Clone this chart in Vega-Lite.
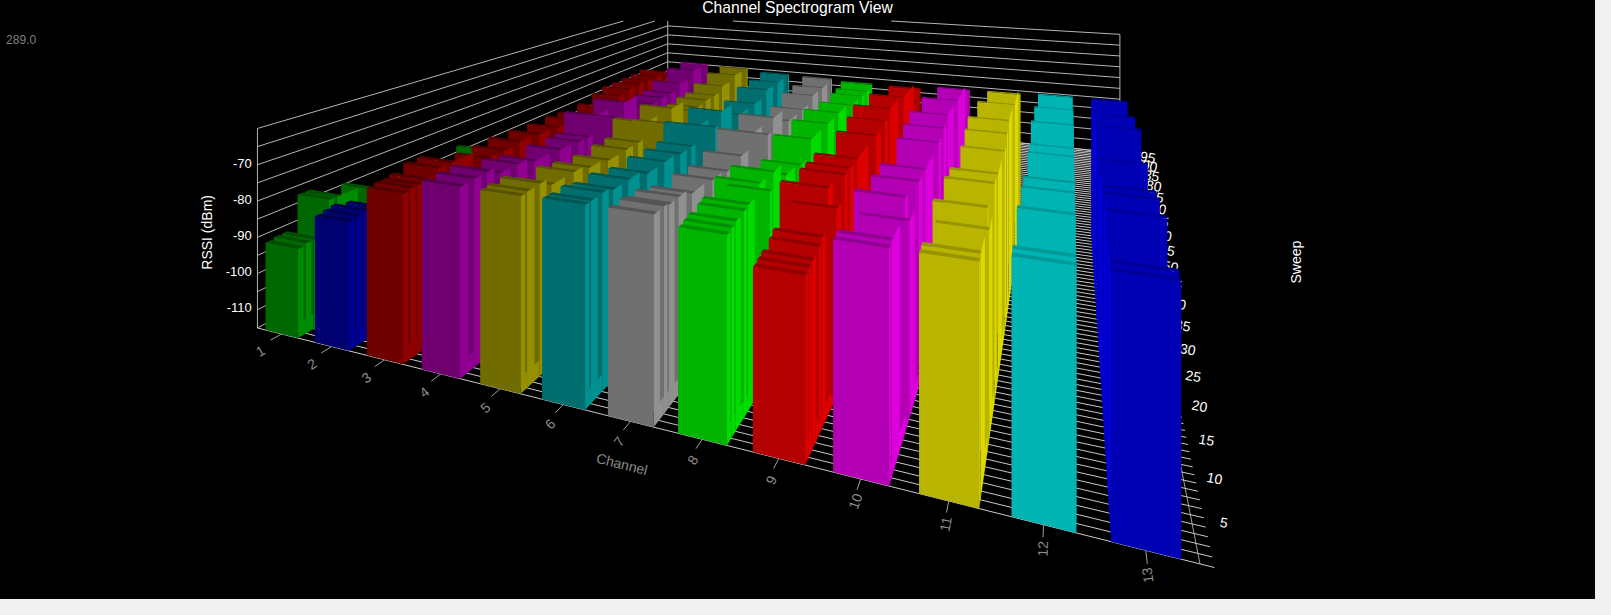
{"$schema":"https://vega.github.io/schema/vega-lite/v6.json","width":1595,"height":599,"autosize":{"type":"none"},"padding":{"left":0,"top":0,"right":16,"bottom":16},"background":"#f0f0f0","config":{"view":{"fill":"#000000","stroke":null}},"title":{"text":"Channel Spectrogram View","color":"#ffffff","font":"Liberation Sans","fontSize":15.7,"fontWeight":"normal","offset":-17},
"datasets":{
"bars":[
{"channel":1,"sweep":35,"rssi":-91.5},{"channel":1,"sweep":31,"rssi":-86.5},{"channel":1,"sweep":17,"rssi":-89.5},{"channel":1,"sweep":11,"rssi":-83.4},{"channel":1,"sweep":6,"rssi":-81.3},{"channel":1,"sweep":5,"rssi":-81.3},{"channel":1,"sweep":3,"rssi":-90.5},{"channel":1,"sweep":2,"rssi":-90.5},{"channel":1,"sweep":1,"rssi":-91},
{"channel":2,"sweep":5,"rssi":-81.3},{"channel":2,"sweep":3,"rssi":-80.3},{"channel":2,"sweep":2,"rssi":-80.8},{"channel":2,"sweep":1,"rssi":-81.3},
{"channel":3,"sweep":59,"rssi":-70.5},{"channel":3,"sweep":56,"rssi":-71},{"channel":3,"sweep":53,"rssi":-71},{"channel":3,"sweep":50,"rssi":-71},{"channel":3,"sweep":47,"rssi":-71},{"channel":3,"sweep":44,"rssi":-72},{"channel":3,"sweep":40,"rssi":-73.5},{"channel":3,"sweep":35,"rssi":-73.5},{"channel":3,"sweep":32,"rssi":-73},{"channel":3,"sweep":28,"rssi":-73},{"channel":3,"sweep":24,"rssi":-72.5},{"channel":3,"sweep":20,"rssi":-72},{"channel":3,"sweep":17,"rssi":-72.5},{"channel":3,"sweep":14,"rssi":-72.5},{"channel":3,"sweep":8,"rssi":-69},{"channel":3,"sweep":6,"rssi":-69},{"channel":3,"sweep":4,"rssi":-70.5},{"channel":3,"sweep":3,"rssi":-71},{"channel":3,"sweep":2,"rssi":-71},{"channel":3,"sweep":1,"rssi":-71.5},
{"channel":4,"sweep":60,"rssi":-66.5},{"channel":4,"sweep":55,"rssi":-66.5},{"channel":4,"sweep":50,"rssi":-69},{"channel":4,"sweep":47,"rssi":-71},{"channel":4,"sweep":44,"rssi":-71},{"channel":4,"sweep":41,"rssi":-71.5},{"channel":4,"sweep":39,"rssi":-71.5},{"channel":4,"sweep":33,"rssi":-66},{"channel":4,"sweep":26,"rssi":-66},{"channel":4,"sweep":31,"rssi":-70},{"channel":4,"sweep":24,"rssi":-71.5},{"channel":4,"sweep":22,"rssi":-71.5},{"channel":4,"sweep":18,"rssi":-71},{"channel":4,"sweep":13,"rssi":-70.5},{"channel":4,"sweep":10,"rssi":-69},{"channel":4,"sweep":7,"rssi":-69},{"channel":4,"sweep":5,"rssi":-67},{"channel":4,"sweep":3,"rssi":-67.2},{"channel":4,"sweep":1,"rssi":-67.5},
{"channel":5,"sweep":60,"rssi":-67},{"channel":5,"sweep":55,"rssi":-67},{"channel":5,"sweep":50,"rssi":-68.5},{"channel":5,"sweep":47,"rssi":-70.3},{"channel":5,"sweep":44,"rssi":-70.3},{"channel":5,"sweep":41,"rssi":-71},{"channel":5,"sweep":39,"rssi":-71},{"channel":5,"sweep":33,"rssi":-66.3},{"channel":5,"sweep":26,"rssi":-66.3},{"channel":5,"sweep":31,"rssi":-70},{"channel":5,"sweep":24,"rssi":-71.2},{"channel":5,"sweep":21,"rssi":-71.2},{"channel":5,"sweep":17,"rssi":-71.3},{"channel":5,"sweep":13,"rssi":-70.2},{"channel":5,"sweep":10,"rssi":-69},{"channel":5,"sweep":6,"rssi":-69},{"channel":5,"sweep":4,"rssi":-67},{"channel":5,"sweep":2,"rssi":-67.2},{"channel":5,"sweep":1,"rssi":-67.5},
{"channel":6,"sweep":60,"rssi":-68},{"channel":6,"sweep":55,"rssi":-68.4},{"channel":6,"sweep":50,"rssi":-68.4},{"channel":6,"sweep":45,"rssi":-70.6},{"channel":6,"sweep":39,"rssi":-70.6},{"channel":6,"sweep":33,"rssi":-65.7},{"channel":6,"sweep":26,"rssi":-65.7},{"channel":6,"sweep":31,"rssi":-69.5},{"channel":6,"sweep":24,"rssi":-70.5},{"channel":6,"sweep":21,"rssi":-70.5},{"channel":6,"sweep":17,"rssi":-69.7},{"channel":6,"sweep":13,"rssi":-69.7},{"channel":6,"sweep":9,"rssi":-68},{"channel":6,"sweep":6,"rssi":-68},{"channel":6,"sweep":4,"rssi":-67},{"channel":6,"sweep":2,"rssi":-67.2},{"channel":6,"sweep":1,"rssi":-67.2},
{"channel":7,"sweep":60,"rssi":-68.3},{"channel":7,"sweep":55,"rssi":-69},{"channel":7,"sweep":50,"rssi":-69},{"channel":7,"sweep":45,"rssi":-71},{"channel":7,"sweep":39,"rssi":-71},{"channel":7,"sweep":33,"rssi":-66},{"channel":7,"sweep":26,"rssi":-66},{"channel":7,"sweep":31,"rssi":-70},{"channel":7,"sweep":22,"rssi":-69.8},{"channel":7,"sweep":18,"rssi":-71},{"channel":7,"sweep":14,"rssi":-70},{"channel":7,"sweep":9,"rssi":-69.2},{"channel":7,"sweep":6,"rssi":-67.5},{"channel":7,"sweep":4,"rssi":-67.5},{"channel":7,"sweep":3,"rssi":-67},{"channel":7,"sweep":1,"rssi":-67},
{"channel":8,"sweep":57,"rssi":-67.2},{"channel":8,"sweep":54,"rssi":-68.2},{"channel":8,"sweep":51,"rssi":-68.2},{"channel":8,"sweep":45,"rssi":-67.8},{"channel":8,"sweep":38,"rssi":-66},{"channel":8,"sweep":33,"rssi":-66.2},{"channel":8,"sweep":26,"rssi":-66},{"channel":8,"sweep":22,"rssi":-70.4},{"channel":8,"sweep":17,"rssi":-69},{"channel":8,"sweep":13,"rssi":-65},{"channel":8,"sweep":9,"rssi":-64.6},{"channel":8,"sweep":12,"rssi":-69},{"channel":8,"sweep":6,"rssi":-67},{"channel":8,"sweep":5,"rssi":-67.5},{"channel":8,"sweep":3,"rssi":-68},{"channel":8,"sweep":2,"rssi":-68.5},{"channel":8,"sweep":1,"rssi":-69},
{"channel":9,"sweep":58,"rssi":-68},{"channel":9,"sweep":45,"rssi":-63.5},{"channel":9,"sweep":36,"rssi":-61.7},{"channel":9,"sweep":33,"rssi":-63.6},{"channel":9,"sweep":28,"rssi":-64.5},{"channel":9,"sweep":19,"rssi":-64.3},{"channel":9,"sweep":16,"rssi":-64.4},{"channel":9,"sweep":14,"rssi":-64.4},{"channel":9,"sweep":8,"rssi":-62.6},{"channel":9,"sweep":11,"rssi":-70},{"channel":9,"sweep":6,"rssi":-72},{"channel":9,"sweep":5,"rssi":-73},{"channel":9,"sweep":3,"rssi":-74},{"channel":9,"sweep":2,"rssi":-74.5},{"channel":9,"sweep":1,"rssi":-75},
{"channel":10,"sweep":59,"rssi":-67.5},{"channel":10,"sweep":45,"rssi":-63},{"channel":10,"sweep":36,"rssi":-62},{"channel":10,"sweep":32,"rssi":-63.3},{"channel":10,"sweep":28,"rssi":-64.6},{"channel":10,"sweep":19,"rssi":-65},{"channel":10,"sweep":15,"rssi":-64.7},{"channel":10,"sweep":8,"rssi":-62.4},{"channel":10,"sweep":10,"rssi":-69.6},{"channel":10,"sweep":2,"rssi":-66},{"channel":10,"sweep":1,"rssi":-66.5},
{"channel":11,"sweep":60,"rssi":-68},{"channel":11,"sweep":46,"rssi":-63.3},{"channel":11,"sweep":35,"rssi":-61.3},{"channel":11,"sweep":32,"rssi":-63},{"channel":11,"sweep":28,"rssi":-65},{"channel":11,"sweep":19,"rssi":-64},{"channel":11,"sweep":15,"rssi":-63},{"channel":11,"sweep":8,"rssi":-62.3},{"channel":11,"sweep":9.5,"rssi":-68.5},{"channel":11,"sweep":2,"rssi":-66},{"channel":11,"sweep":1,"rssi":-66.5},
{"channel":13,"sweep":59,"rssi":-67},{"channel":13,"sweep":45,"rssi":-63.4},{"channel":13,"sweep":36,"rssi":-61},{"channel":13,"sweep":28,"rssi":-64.5},{"channel":13,"sweep":19,"rssi":-64},{"channel":13,"sweep":16,"rssi":-63},{"channel":13,"sweep":10,"rssi":-61.5},{"channel":13,"sweep":2,"rssi":-64},{"channel":13,"sweep":1,"rssi":-64.5},
{"channel":12,"sweep":60,"rssi":-67.5},{"channel":12,"sweep":46,"rssi":-63.4},{"channel":12,"sweep":36,"rssi":-61.5},{"channel":12,"sweep":32,"rssi":-65.3},{"channel":12,"sweep":28,"rssi":-64.6},{"channel":12,"sweep":19,"rssi":-64},{"channel":12,"sweep":15,"rssi":-63},{"channel":12,"sweep":8,"rssi":-61.5},{"channel":12,"sweep":2,"rssi":-64},{"channel":12,"sweep":1,"rssi":-64.5}
],
"sweepLines":[{"s":1},{"s":2},{"s":3},{"s":4},{"s":5},{"s":6},{"s":7},{"s":8},{"s":9},{"s":10},{"s":11},{"s":12},{"s":13},{"s":14},{"s":15},{"s":16},{"s":17},{"s":18},{"s":19},{"s":20},{"s":21},{"s":22},{"s":23},{"s":24},{"s":25},{"s":26},{"s":27},{"s":28},{"s":29},{"s":30},{"s":31},{"s":32},{"s":33},{"s":34},{"s":35},{"s":36},{"s":37},{"s":38},{"s":39},{"s":40},{"s":41},{"s":42},{"s":43},{"s":44},{"s":45},{"s":46},{"s":47},{"s":48},{"s":49},{"s":50},{"s":51},{"s":52},{"s":53},{"s":54},{"s":55},{"s":56},{"s":57},{"s":58},{"s":59},{"s":60},{"s":61},{"s":62},{"s":63},{"s":64},{"s":65},{"s":66},{"s":67},{"s":68},{"s":69},{"s":70},{"s":71},{"s":72},{"s":73},{"s":74},{"s":75},{"s":76},{"s":77},{"s":78},{"s":79},{"s":80},{"s":81},{"s":82},{"s":83},{"s":84},{"s":85},{"s":86},{"s":87},{"s":88},{"s":89},{"s":90},{"s":91},{"s":92},{"s":93},{"s":94},{"s":95},{"s":96},{"s":97},{"s":98},{"s":99},{"s":100}],
"rssiLines":[{"r":-115},{"r":-110},{"r":-105},{"r":-100},{"r":-95},{"r":-90},{"r":-85},{"r":-80},{"r":-75},{"r":-70},{"r":-65},{"r":-60}],
"channels":[{"ch":1},{"ch":2},{"ch":3},{"ch":4},{"ch":5},{"ch":6},{"ch":7},{"ch":8},{"ch":9},{"ch":10},{"ch":11},{"ch":12},{"ch":13}],
"verticals":[{"c":0.5,"s":1},{"c":0.5,"s":100},{"c":13.5,"s":100}],
"sweepTicks":[{"t":5},{"t":10},{"t":15},{"t":20},{"t":25},{"t":30},{"t":35},{"t":40},{"t":45},{"t":50},{"t":55},{"t":60},{"t":65},{"t":70},{"t":75},{"t":80},{"t":85},{"t":90},{"t":95}],
"rssiTicks":[{"t":-70},{"t":-80},{"t":-90},{"t":-100},{"t":-110}]
},
"layer":[
{"data":{"name":"rssiLines"},"transform":[{"calculate":"[0,1]","as":"end"},{"flatten":["end"]},
{"calculate":"1-0.02617*0.5+0.0102*(datum.end*99)","as":"w"},
{"calculate":"(234+40.15*0.5+10.9*datum.end*99)/datum.w","as":"px"},
{"calculate":"(322.1+3.154*0.5-1.12*datum.end*99-3.58*(datum.r+115))/datum.w","as":"py"},
{"calculate":"(234+40.15*0.5)/(1-0.02617*0.5)","as":"ax"},{"calculate":"(322.1+3.154*0.5-3.58*(datum.r+115))/(1-0.02617*0.5)","as":"ay"},
{"calculate":"datum.py<21?datum.ax+(datum.px-datum.ax)*(datum.ay-21)/(datum.ay-datum.py):datum.px","as":"x"},{"calculate":"max(datum.py,21)","as":"y"}],
"mark":{"type":"line","stroke":"#b4b4b4","strokeWidth":1},"encoding":{"x":{"field":"x","type":"quantitative","scale":{"domain":[0,1595],"nice":false,"zero":false},"axis":null},"y":{"field":"y","type":"quantitative","scale":{"domain":[599,0],"nice":false,"zero":false},"axis":null},"detail":{"field":"r"},"order":{"field":"end"}}},
{"data":{"name":"rssiLines"},"transform":[{"calculate":"[0,1]","as":"end"},{"flatten":["end"]},
{"calculate":"datum.end==0?13.5:0.5","as":"c"},
{"calculate":"1-0.02617*datum.c+0.0102*99","as":"w"},
{"calculate":"(234+40.15*datum.c+10.9*99)/datum.w","as":"px"},
{"calculate":"(322.1+3.154*datum.c-1.12*99-3.58*(datum.r+115))/datum.w","as":"py"},
{"calculate":"(234+40.15*13.5+10.9*99)/(1-0.02617*13.5+0.0102*99)","as":"ax"},{"calculate":"(322.1+3.154*13.5-1.12*99-3.58*(datum.r+115))/(1-0.02617*13.5+0.0102*99)","as":"ay"},
{"calculate":"datum.py<21?datum.ax+(datum.px-datum.ax)*(datum.ay-21)/(datum.ay-datum.py):datum.px","as":"x"},{"calculate":"max(datum.py,21)","as":"y"}],
"mark":{"type":"line","stroke":"#b4b4b4","strokeWidth":1},"encoding":{"x":{"field":"x","type":"quantitative"},"y":{"field":"y","type":"quantitative"},"detail":{"field":"r"},"order":{"field":"end"}}},
{"data":{"name":"verticals"},"transform":[{"calculate":"[-115,-60]","as":"r"},{"flatten":["r"]},
{"calculate":"1-0.02617*datum.c+0.0102*(datum.s-1)","as":"w"},
{"calculate":"(234+40.15*datum.c+10.9*(datum.s-1))/datum.w","as":"x"},
{"calculate":"max(21,(322.1+3.154*datum.c-1.12*(datum.s-1)-3.58*(datum.r+115))/datum.w)","as":"y"},{"calculate":"datum.c+'-'+datum.s","as":"k"}],
"mark":{"type":"line","stroke":"#b4b4b4","strokeWidth":1},"encoding":{"x":{"field":"x","type":"quantitative"},"y":{"field":"y","type":"quantitative"},"detail":{"field":"k"},"order":{"field":"r"}}},
{"data":{"values":[{"s":1},{"s":100}]},"transform":[
{"calculate":"1-0.02617*13.5+0.0102*(datum.s-1)","as":"w"},
{"calculate":"(234+40.15*13.5+10.9*(datum.s-1))/datum.w","as":"x"},
{"calculate":"(322.1+3.154*13.5-1.12*(datum.s-1))/datum.w","as":"y"}],
"mark":{"type":"line","stroke":"#a0a0a0","strokeWidth":1},"encoding":{"x":{"field":"x","type":"quantitative"},"y":{"field":"y","type":"quantitative"},"order":{"field":"s"}}},
{"data":{"name":"sweepLines"},"transform":[{"calculate":"[0.5,13.63]","as":"c"},{"flatten":["c"]},
{"calculate":"1-0.02617*datum.c+0.0102*(datum.s-1)","as":"w"},
{"calculate":"(234+40.15*datum.c+10.9*(datum.s-1))/datum.w","as":"x"},
{"calculate":"(322.1+3.154*datum.c-1.12*(datum.s-1))/datum.w","as":"y"}],
"mark":{"type":"line","stroke":"#c8c8c8","strokeWidth":1},"encoding":{"x":{"field":"x","type":"quantitative"},"y":{"field":"y","type":"quantitative"},"detail":{"field":"s"},"order":{"field":"c"}}},
{"data":{"name":"channels"},"transform":[{"calculate":"[1,-0.3]","as":"s"},{"flatten":["s"]},
{"calculate":"1-0.02617*datum.ch+0.0102*(datum.s-1)","as":"w"},
{"calculate":"(234+40.15*datum.ch+10.9*(datum.s-1))/datum.w","as":"x"},
{"calculate":"(322.1+3.154*datum.ch-1.12*(datum.s-1))/datum.w","as":"y"}],
"mark":{"type":"line","stroke":"#a0a0a0","strokeWidth":1},"encoding":{"x":{"field":"x","type":"quantitative"},"y":{"field":"y","type":"quantitative"},"detail":{"field":"ch"},"order":{"field":"s","sort":"descending"}}},
{"data":{"name":"rssiTicks"},"transform":[
{"calculate":"(234+40.15*0.38)/(1-0.02617*0.38)","as":"x"},
{"calculate":"(322.1+3.154*0.38-3.58*(datum.t+115))/(1-0.02617*0.38)","as":"y"}],
"mark":{"type":"text","align":"right","baseline":"middle","color":"#ffffff","font":"Liberation Sans","fontSize":13},"encoding":{"x":{"field":"x","type":"quantitative"},"y":{"field":"y","type":"quantitative"},"text":{"field":"t"}}},
{"data":{"name":"sweepTicks"},"transform":[
{"calculate":"13.8+0.0033*(datum.t-5)","as":"c"},
{"calculate":"1-0.02617*datum.c+0.0102*(datum.t-1)","as":"w"},
{"calculate":"(234+40.15*datum.c+10.9*(datum.t-1))/datum.w","as":"x"},
{"calculate":"(322.1+3.154*datum.c-1.12*(datum.t-1)-3.58*(1.5+0.0144*(datum.t-5)))/datum.w","as":"y"}],
"mark":{"type":"text","align":"center","baseline":"middle","color":"#ffffff","font":"Liberation Sans","fontSize":14,"angle":10},"encoding":{"x":{"field":"x","type":"quantitative"},"y":{"field":"y","type":"quantitative"},"text":{"field":"t"}}},
{"data":{"name":"bars"},"transform":[
{"window":[{"op":"lead","field":"sweep","as":"next"}],"groupby":["channel"],"sort":[{"field":"sweep","order":"ascending"}]},
{"calculate":"datum.channel==13?datum.channel-0.33:datum.channel+0.33","as":"cs"},
{"calculate":"datum.sweep+0.7","as":"back"},
{"calculate":"isValid(datum.next)?datum.next:datum.back","as":"nx"},
{"calculate":"datum.sweep+max(0.7,0.6*(datum.nx-datum.sweep))","as":"sm"},
{"calculate":"[{f:0,i:0,c:datum.cs,s:datum.sweep,r:-115},{f:0,i:1,c:datum.cs,s:datum.nx,r:-115},{f:0,i:2,c:datum.cs,s:datum.nx,r:min(-111,datum.rssi)},{f:0,i:3,c:datum.cs,s:datum.sm,r:min(-111,datum.rssi)},{f:0,i:4,c:datum.cs,s:datum.sm,r:datum.rssi},{f:0,i:5,c:datum.cs,s:datum.sweep,r:datum.rssi},{f:1,i:0,c:datum.channel-0.33,s:datum.sweep,r:datum.rssi},{f:1,i:1,c:datum.channel+0.33,s:datum.sweep,r:datum.rssi},{f:1,i:2,c:datum.channel+0.33,s:datum.back,r:datum.rssi},{f:1,i:3,c:datum.channel-0.33,s:datum.back,r:datum.rssi},{f:2,i:0,c:datum.channel-0.33,s:datum.sweep,r:-115},{f:2,i:1,c:datum.channel+0.33,s:datum.sweep,r:-115},{f:2,i:2,c:datum.channel+0.33,s:datum.sweep,r:datum.rssi},{f:2,i:3,c:datum.channel-0.33,s:datum.sweep,r:datum.rssi}]","as":"v"},
{"flatten":["v"]},
{"calculate":"1-0.02617*datum.v.c+0.0102*(datum.v.s-1)","as":"w"},
{"calculate":"(234+40.15*datum.v.c+10.9*(datum.v.s-1))/datum.w","as":"x"},
{"calculate":"(322.1+3.154*datum.v.c-1.12*(datum.v.s-1)-3.58*(datum.v.r+115))/datum.w","as":"y"},
{"calculate":"datum.channel+'|'+datum.sweep+'|'+datum.v.f","as":"face"},
{"calculate":"datum.channel+'|'+datum.v.f","as":"shade"},
{"calculate":"datum.v.i","as":"vi"}],
"mark":{"type":"line","strokeWidth":0,"interpolate":"linear-closed"},
"encoding":{"x":{"field":"x","type":"quantitative"},"y":{"field":"y","type":"quantitative"},"detail":{"field":"face"},"order":{"field":"vi"},
"fill":{"field":"shade","type":"nominal","legend":null,"scale":{"domain":["1|0","1|1","1|2","2|0","2|1","2|2","3|0","3|1","3|2","4|0","4|1","4|2","5|0","5|1","5|2","6|0","6|1","6|2","7|0","7|1","7|2","8|0","8|1","8|2","9|0","9|1","9|2","10|0","10|1","10|2","11|0","11|1","11|2","12|0","12|1","12|2","13|0","13|1","13|2"],"range":["#008c00","#004f00","#006800","#000090","#00004f","#000070","#900000","#500000","#700000","#900090","#500050","#700070","#949000","#565200","#706c00","#009090","#005555","#006e6e","#909090","#555555","#707070","#00dc00","#009000","#00b400","#dc0000","#900000","#b40000","#dc00dc","#900090","#b400b4","#dcd800","#989400","#b8b400","#00dcdc","#009898","#00b4b4","#0000dc","#000098","#0000b4"]}}}},
{"data":{"name":"channels"},"transform":[
{"calculate":"datum.ch+0.15*(13-datum.ch)/12","as":"c"},
{"calculate":"-2.3+0.08*(datum.ch-1)","as":"s"},
{"calculate":"1-0.02617*datum.c+0.0102*(datum.s-1)","as":"w"},
{"calculate":"(234+40.15*datum.c+10.9*(datum.s-1))/datum.w","as":"x"},
{"calculate":"(322.1+3.154*datum.c-1.12*(datum.s-1))/datum.w","as":"y"},
{"calculate":"atan2(-110-datum.y,1069-datum.x)*180/PI","as":"ang"}],
"mark":{"type":"text","align":"center","baseline":"middle","color":"#8c8c8c","font":"Liberation Sans","fontSize":14},"encoding":{"x":{"field":"x","type":"quantitative"},"y":{"field":"y","type":"quantitative"},"text":{"field":"ch"},"angle":{"field":"ang","type":"quantitative","scale":null}}},
{"data":{"values":[{"label":"Channel","c":7.3,"s":-4.3,"r":-115}]},"transform":[
{"calculate":"1-0.02617*datum.c+0.0102*(datum.s-1)","as":"w"},
{"calculate":"(234+40.15*datum.c+10.9*(datum.s-1))/datum.w","as":"x"},
{"calculate":"(322.1+3.154*datum.c-1.12*(datum.s-1)-3.58*(datum.r+115))/datum.w","as":"y"}],
"mark":{"type":"text","align":"center","baseline":"middle","color":"#8c8c8c","font":"Liberation Sans","fontSize":14,"angle":14},"encoding":{"x":{"field":"x","type":"quantitative"},"y":{"field":"y","type":"quantitative"},"text":{"field":"label"}}},
{"data":{"values":[{"label":"RSSI (dBm)","c":-0.57,"s":1,"r":-91.4},{"label":"Sweep","c":14.35,"s":1,"r":-58.1}]},"transform":[
{"calculate":"1-0.02617*datum.c+0.0102*(datum.s-1)","as":"w"},
{"calculate":"(234+40.15*datum.c+10.9*(datum.s-1))/datum.w","as":"x"},
{"calculate":"(322.1+3.154*datum.c-1.12*(datum.s-1)-3.58*(datum.r+115))/datum.w","as":"y"}],
"mark":{"type":"text","align":"center","baseline":"middle","color":"#ffffff","font":"Liberation Sans","fontSize":14,"angle":-90},"encoding":{"x":{"field":"x","type":"quantitative"},"y":{"field":"y","type":"quantitative"},"text":{"field":"label"}}},
{"data":{"values":[{"label":"289.0","c":-5.23,"s":1,"r":-42.2}]},"transform":[
{"calculate":"1-0.02617*datum.c+0.0102*(datum.s-1)","as":"w"},
{"calculate":"(234+40.15*datum.c+10.9*(datum.s-1))/datum.w","as":"x"},
{"calculate":"(322.1+3.154*datum.c-1.12*(datum.s-1)-3.58*(datum.r+115))/datum.w","as":"y"}],
"mark":{"type":"text","align":"center","baseline":"middle","color":"#808080","font":"Liberation Sans","fontSize":12},"encoding":{"x":{"field":"x","type":"quantitative"},"y":{"field":"y","type":"quantitative"},"text":{"field":"label"}}}
]}
